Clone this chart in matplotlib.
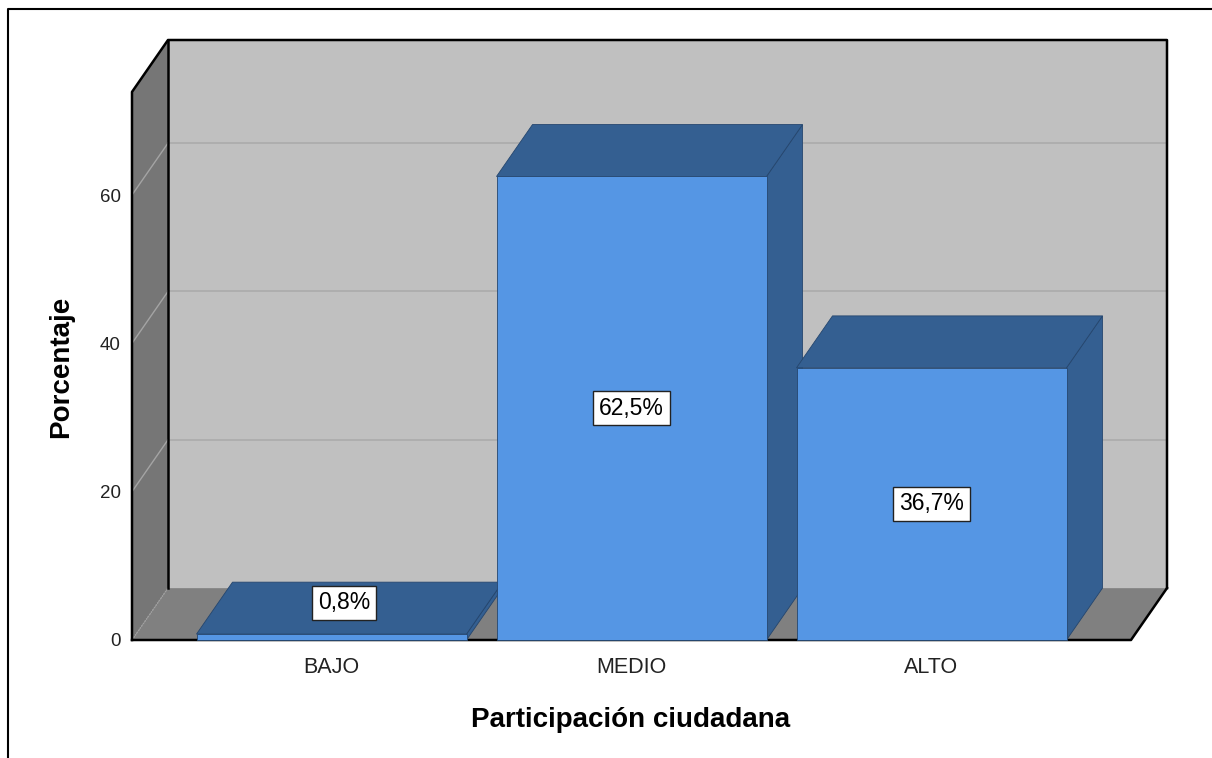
import matplotlib
matplotlib.use("Agg")
import matplotlib.pyplot as plt
from matplotlib.patches import Polygon
from matplotlib.lines import Line2D

categorias = ["BAJO", "MEDIO", "ALTO"]
porcentajes = [0.8, 62.5, 36.7]
etiquetas = ["0,8%", "62,5%", "36,7%"]
marcas_y = [0, 20, 40, 60]

plt.rcParams['font.family'] = ['Liberation Sans', 'DejaVu Sans']

ANCHO = 0.9            # ancho de barra (unidades de categoria)
DX, DY = 0.12, 7.0     # profundidad 3D
X0, X1 = -0.665, 2.665
YTOP = 73.9

fig = plt.figure(figsize=(12.12, 7.58), dpi=100)
ax = fig.add_axes([132/1212, 118/758, 1035/1212, 600/758])
ax.set_xlim(X0, X1 + DX)
ax.set_ylim(0, YTOP + DY)
ax.set_facecolor('none')
for s in ax.spines.values():
	s.set_visible(False)

def poly(pts, fc, ec='none', lw=0, z=1):
	ax.add_patch(Polygon(pts, closed=True, facecolor=fc, edgecolor=ec,
						 linewidth=lw, zorder=z, joinstyle='miter', clip_on=False))

def linea(xs, ys, **kw):
	ax.plot(xs, ys, clip_on=False, solid_capstyle='projecting', **kw)

# paredes y suelo
poly([(X0+DX, DY), (X1+DX, DY), (X1+DX, YTOP+DY), (X0+DX, YTOP+DY)], '#c0c0c0')
poly([(X0, 0), (X0+DX, DY), (X0+DX, YTOP+DY), (X0, YTOP)], '#767676')
poly([(X0, 0), (X1, 0), (X1+DX, DY), (X0+DX, DY)], '#808080')

# rejilla
for v in marcas_y[1:]:
	linea([X0+DX, X1+DX], [v+DY, v+DY], color='#ababab', lw=1.2, zorder=2)
	linea([X0, X0+DX], [v, v+DY], color='#a4a4a4', lw=1.0, zorder=2)
linea([X0, X0+DX], [0, DY], color='#a0a0a0', lw=1.0, ls=(0, (1, 1)), zorder=2)

# bordes negros
k = dict(color='black', lw=1.8, zorder=3)
linea([X0, X0, X0+DX, X1+DX, X1+DX], [0, YTOP, YTOP+DY, YTOP+DY, DY], **k)
linea([X0+DX, X0+DX], [YTOP+DY, DY], **k)
linea([X0, X1, X1+DX], [0, 0, DY], **k)

# barras
oscuro = '#345f91'
claro = '#5596e4'
borde = '#25466e'
for i, v in enumerate(porcentajes):
	xl, xr = i - ANCHO/2, i + ANCHO/2
	z = 10 + i*3
	poly([(xr, 0), (xr+DX, DY), (xr+DX, v+DY), (xr, v)], oscuro, borde, 0.6, z)
	poly([(xl, v), (xl+DX, v+DY), (xr+DX, v+DY), (xr, v)], oscuro, borde, 0.6, z+1)
	poly([(xl, 0), (xr, 0), (xr, v), (xl, v)], claro, borde, 0.6, z+2)

for i, v in enumerate(porcentajes):
	if v < 6:
		tx, ty = i + 0.35*DX, v + 0.6*DY
	else:
		tx, ty = i, v/2
	ax.text(tx, ty, etiquetas[i], ha='center', va='center', fontsize=16.5, zorder=30,
			bbox=dict(boxstyle='square,pad=0.25', fc='white', ec='#222222', lw=1.0))

ax.set_yticks(marcas_y)
ax.set_xticks(range(len(categorias)), categorias)
ax.tick_params(axis='y', length=0, pad=8, labelsize=13.5, labelcolor='#222222')
ax.tick_params(axis='x', length=0, pad=12, labelsize=15.5, labelcolor='#222222')

fig.text(631/1212, 1-720/758, "Participación ciudadana", ha='center', va='center',
		 fontsize=20, fontweight='bold')
fig.text(61/1212, 1-367/758, "Porcentaje", ha='center', va='center', rotation=90,
		 fontsize=20, fontweight='bold')

# marco exterior
fig.add_artist(Line2D([8/1212, 8/1212, 1], [0, 1-9/758, 1-9/758],
					  transform=fig.transFigure, color='black', lw=1.5))

fig.savefig('out.png', dpi=100)
